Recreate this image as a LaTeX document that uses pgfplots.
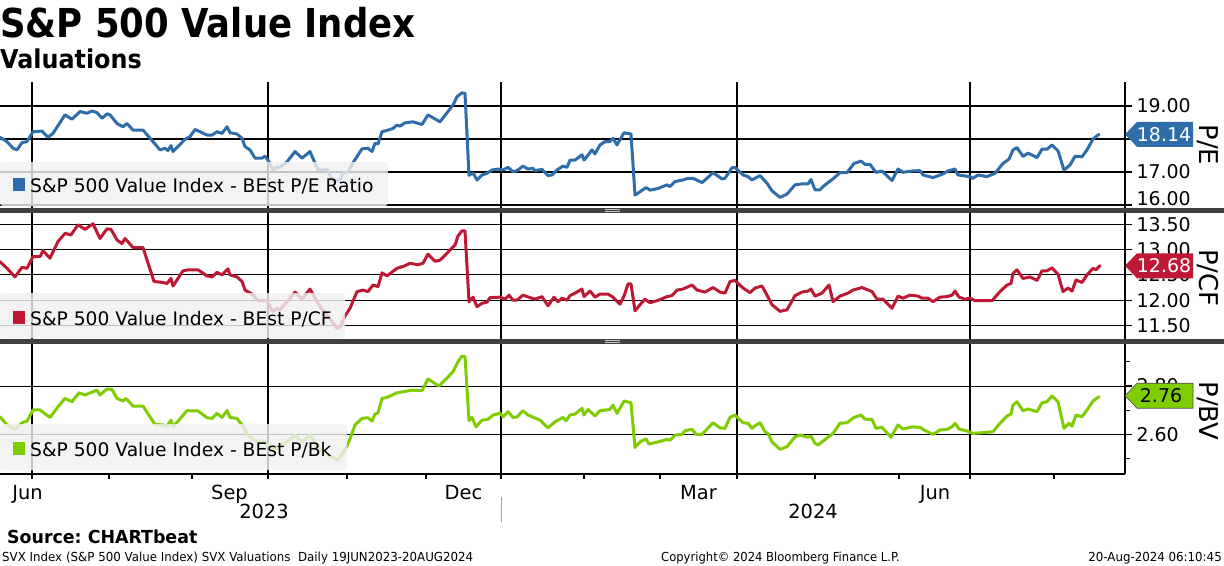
\documentclass[border=0pt]{standalone}
\usepackage{fontspec}
\setmainfont{DejaVu Sans}
\usepackage{pgfplots}
\pgfplotsset{compat=1.18}
\definecolor{pecol}{RGB}{46,109,170}
\definecolor{cfcol}{RGB}{190,25,52}
\definecolor{bvcol}{RGB}{127,204,0}
\definecolor{legbg}{RGB}{240,240,240}
\definecolor{sepcol}{RGB}{64,64,64}

\pgfplotstableread{
x y
0 18.05
7 17.92
13 17.72
17 17.67
22 17.89
27 17.92
33 18.22
42 18.24
48 18.05
53 18.17
65 18.73
72 18.60
80 18.83
87 18.78
92 18.85
97 18.80
102 18.63
107 18.76
110 18.73
117 18.47
123 18.37
127 18.47
133 18.27
143 18.27
153 17.92
160 17.67
165 17.72
168 17.65
171 17.80
173 17.62
185 17.99
190 18.07
195 18.29
200 18.22
207 18.12
212 18.12
217 18.22
222 18.17
227 18.37
230 18.19
237 18.15
242 18.02
245 17.77
250 17.67
255 17.42
262 17.42
265 17.48
268 17.36
273 17.06
277 17.14
280 17.14
287 17.31
295 17.62
302 17.42
310 17.62
318 17.06
327 17.08
333 16.71
340 16.76
343 16.96
348 17.01
353 17.28
362 17.70
368 17.72
372 17.62
375 17.87
378 17.85
382 18.22
388 18.27
393 18.32
397 18.42
400 18.39
405 18.49
413 18.52
422 18.44
428 18.73
440 18.52
453 19.03
457 19.28
462 19.40
465 19.38
469 16.90
473 16.97
477 16.76
482 16.91
487 16.96
492 17.06
498 17.09
503 17.06
508 17.14
513 17.01
517 17.04
523 17.18
528 17.09
533 17.11
535 17.04
542 17.08
548 16.89
552 16.91
557 17.06
563 17.18
567 17.14
570 17.36
575 17.36
582 17.52
584 17.36
592 17.67
595 17.55
600 17.82
605 17.92
610 17.92
613 18.02
617 17.82
624 18.19
631 18.15
635 16.30
640 16.40
646 16.53
650 16.45
658 16.50
667 16.61
670 16.56
675 16.71
683 16.76
688 16.81
693 16.81
702 16.68
707 16.81
713 16.98
722 16.79
725 16.81
732 17.13
735 17.14
743 16.91
748 16.86
752 16.76
760 16.89
767 16.66
772 16.43
780 16.23
787 16.33
795 16.61
802 16.64
808 16.64
811 16.77
815 16.46
820 16.46
825 16.61
833 16.79
840 16.98
847 16.98
854 17.26
861 17.33
865 17.23
870 17.23
876 16.99
882 17.03
892 16.74
898 17.09
903 16.99
912 17.03
920 17.04
923 16.91
933 16.83
942 16.93
948 17.03
955 17.09
958 16.91
970 16.86
973 16.81
978 16.91
987 16.86
995 16.96
1003 17.26
1009 17.39
1013 17.67
1017 17.74
1023 17.47
1028 17.57
1037 17.44
1042 17.69
1047 17.69
1052 17.82
1058 17.64
1064 17.06
1070 17.21
1075 17.48
1082 17.46
1087 17.67
1093 18.00
1099 18.14
}\tablePE

\pgfplotstableread{
x y
0 12.76
7 12.63
15 12.46
22 12.65
27 12.63
33 12.86
40 12.86
43 12.98
50 12.83
58 13.16
65 13.32
71 13.29
78 13.49
85 13.40
93 13.51
100 13.22
107 13.41
111 13.40
117 13.19
122 13.12
125 13.22
133 13.04
143 13.04
154 12.37
163 12.35
167 12.33
171 12.43
173 12.28
183 12.58
188 12.60
198 12.60
207 12.48
212 12.46
217 12.55
222 12.50
228 12.62
230 12.50
237 12.46
242 12.37
245 12.20
252 12.12
258 11.99
267 11.99
273 11.77
277 11.84
280 11.81
287 11.97
295 12.16
302 12.02
310 12.22
320 11.87
328 11.69
337 11.44
340 11.46
345 11.69
350 11.84
357 12.17
363 12.20
368 12.17
373 12.30
378 12.27
382 12.54
387 12.48
397 12.63
405 12.68
410 12.73
418 12.70
423 12.73
428 12.91
435 12.77
440 12.79
450 12.99
455 13.09
458 13.27
462 13.37
465 13.37
469 11.97
473 12.06
477 11.87
482 11.94
487 11.96
490 12.05
500 12.06
505 12.02
509 12.10
513 12.00
517 12.00
523 12.10
530 12.05
535 12.02
542 12.07
548 11.89
554 12.06
558 11.97
562 12.04
567 12.00
570 12.09
575 12.14
582 12.22
584 12.07
590 12.18
595 12.06
600 12.12
608 12.12
613 12.06
620 11.92
624 12.08
628 12.32
631 12.32
635 11.79
640 11.91
645 12.02
650 11.95
657 11.99
667 12.07
672 12.09
677 12.20
683 12.22
692 12.30
697 12.20
705 12.16
713 12.25
720 12.16
725 12.14
730 12.37
735 12.39
743 12.24
750 12.15
755 12.24
762 12.28
767 12.10
772 11.91
780 11.78
787 11.81
795 12.09
802 12.16
808 12.18
811 12.22
815 12.08
822 12.14
829 12.30
833 11.97
840 12.08
848 12.14
853 12.20
862 12.25
872 12.17
877 12.02
883 12.02
892 11.84
898 12.08
903 12.04
910 12.10
918 12.08
922 12.04
928 12.04
933 11.97
940 12.06
947 12.07
952 12.10
955 12.18
959 12.06
965 12.02
970 12.04
975 11.99
992 11.99
1000 12.17
1007 12.30
1011 12.33
1013 12.53
1017 12.60
1023 12.43
1030 12.46
1037 12.39
1042 12.58
1047 12.58
1052 12.64
1058 12.51
1063 12.17
1068 12.24
1072 12.18
1076 12.40
1082 12.35
1087 12.50
1093 12.63
1096 12.60
1100 12.68
}\tableCF

\pgfplotstableread{
x y
0 2.673
7 2.639
15 2.621
22 2.648
27 2.655
33 2.701
40 2.701
50 2.670
58 2.714
65 2.749
72 2.735
79 2.772
85 2.763
97 2.783
100 2.763
107 2.788
112 2.786
117 2.749
123 2.738
126 2.749
133 2.717
143 2.717
155 2.641
163 2.639
167 2.634
171 2.659
173 2.631
187 2.698
198 2.697
207 2.669
212 2.666
217 2.687
222 2.670
227 2.698
230 2.670
237 2.666
242 2.639
248 2.597
255 2.574
265 2.569
273 2.535
280 2.549
287 2.569
295 2.597
302 2.569
310 2.597
320 2.535
328 2.514
338 2.494
345 2.535
350 2.581
355 2.639
362 2.666
368 2.669
372 2.655
375 2.684
378 2.689
382 2.749
387 2.753
397 2.772
405 2.778
412 2.783
422 2.781
428 2.829
439 2.800
453 2.859
458 2.901
462 2.924
465 2.921
469 2.657
472 2.670
476 2.631
482 2.659
488 2.662
493 2.680
500 2.687
503 2.673
508 2.694
513 2.670
517 2.672
523 2.698
528 2.680
540 2.659
548 2.627
555 2.652
563 2.670
566 2.656
570 2.680
575 2.684
582 2.708
584 2.680
588 2.703
595 2.676
600 2.698
610 2.703
613 2.721
617 2.687
624 2.738
631 2.731
635 2.546
640 2.569
646 2.581
649 2.560
658 2.569
667 2.579
670 2.576
675 2.597
682 2.600
685 2.615
692 2.621
696 2.600
702 2.600
713 2.648
720 2.627
725 2.625
730 2.670
735 2.680
743 2.648
748 2.646
752 2.625
755 2.636
760 2.648
765 2.611
768 2.604
772 2.569
780 2.538
787 2.549
795 2.590
800 2.597
808 2.588
811 2.593
815 2.563
818 2.556
825 2.579
833 2.604
840 2.646
847 2.648
854 2.670
861 2.680
865 2.663
872 2.662
876 2.625
882 2.629
891 2.588
898 2.639
903 2.622
912 2.631
920 2.629
924 2.618
933 2.600
940 2.618
947 2.621
952 2.631
955 2.646
959 2.622
967 2.614
973 2.604
993 2.611
1000 2.646
1007 2.676
1011 2.684
1013 2.721
1017 2.735
1023 2.698
1028 2.705
1037 2.694
1042 2.731
1047 2.735
1052 2.759
1058 2.735
1064 2.625
1069 2.646
1072 2.634
1076 2.680
1082 2.673
1087 2.701
1093 2.738
1099 2.756
}\tableBV

\pgfplotsset{
  panel/.style={
    scale only axis, width=1125bp, xmin=0, xmax=1125,
    axis y line*=right, axis x line*=bottom,
    x axis line style={draw=none},
    y axis line style={black, line width=1.3bp},
    xtick={32,268,501,737,970}, xticklabels={},
    xmajorgrids, ymajorgrids,
    major grid style={black, line width=1.1bp},
    tick align=outside, major tick length=7bp, minor tick length=5bp,
    ytick style={black, line width=1.2bp},
    xtick style={draw=none},
    yticklabel style={font=\fontsize{19}{19}\selectfont, xshift=1bp,
      /pgf/number format/fixed, /pgf/number format/fixed zerofill,
      /pgf/number format/precision=2, /pgf/number format/assume math mode=true},
    clip=false,
  },
  serie/.style={line width=3bp, line join=round, line cap=round},
}

\begin{document}
\begin{tikzpicture}
\path[use as bounding box] (0bp,0bp) rectangle (1224bp,-566bp);

% ---------- panel 1 : P/E
\begin{axis}[panel, at={(0bp,-208bp)}, anchor=south west, height=126bp,
  ymin=15.909, ymax=19.727, ytick={17,18,19},
  extra y ticks={16}, extra y tick style={yticklabel style={/tikz/yshift=6bp}}]
  \addplot[serie, pecol] table[x=x,y=y]{\tablePE};
  \coordinate (peend) at (axis cs:1125,18.14);
\end{axis}

% ---------- panel 2 : P/CF
\begin{axis}[panel, at={(0bp,-339bp)}, anchor=south west, height=126bp,
  ymin=11.233, ymax=13.723, ytick={11.5,12,12.5,13,13.5}]
  \addplot[serie, cfcol] table[x=x,y=y]{\tableCF};
  \coordinate (cfend) at (axis cs:1125,12.68);
\end{axis}

% ---------- panel 3 : P/BV
\begin{axis}[panel, at={(0bp,-474bp)}, anchor=south west, height=130bp,
  ymin=2.436, ymax=2.974, ytick={2.6,2.8}, minor ytick={2.5,2.7,2.9},
  x axis line style={draw=black, line width=1.3bp},
  xtick style={draw=black, line width=1.1bp, /pgfplots/major tick length=5bp},
  minor xtick={109,192,347,426,584,660,815,899,1054},
  extra x ticks={27.5,229.5,463.5,698.5,935},
  extra x tick labels={Jun,Sep,Dec,Mar,Jun},
  extra x tick style={grid=none, xtick style={draw=none},
     xticklabel style={font=\fontsize{19.5}{19.5}\selectfont, /tikz/yshift=-1bp}},
  ]
  \addplot[serie, bvcol] table[x=x,y=y]{\tableBV};
  \coordinate (bvend) at (axis cs:1125,2.76);
\end{axis}

% ---------- separators
\fill[sepcol] (0bp,-208bp) rectangle (1224bp,-212.5bp);
\fill[sepcol] (0bp,-339bp) rectangle (1224bp,-343.5bp);
\foreach \yy in {209.6,211.2,340.6,342.2}
  \draw[gray!45, line width=0.6bp] (605bp,-\yy bp) -- (620bp,-\yy bp);

% ---------- legends
\fill[legbg, fill opacity=0.82, rounded corners=3bp] (0bp,-162bp) rectangle (388bp,-206bp);
\fill[pecol] (13bp,-178bp) rectangle (25bp,-191bp);
\node[anchor=base west, inner sep=0pt, font=\fontsize{18.75}{20}\selectfont] at (30bp,-192.5bp) {S\&P 500 Value Index - BEst P/E Ratio};

\fill[legbg, fill opacity=0.82, rounded corners=3bp] (0bp,-293bp) rectangle (345bp,-338bp);
\fill[cfcol] (13bp,-311bp) rectangle (25bp,-324bp);
\node[anchor=base west, inner sep=0pt, font=\fontsize{18.75}{20}\selectfont] at (30bp,-325.5bp) {S\&P 500 Value Index - BEst P/CF};

\fill[legbg, fill opacity=0.82, rounded corners=3bp] (0bp,-424bp) rectangle (347bp,-470bp);
\fill[bvcol] (13bp,-442bp) rectangle (25bp,-455bp);
\node[anchor=base west, inner sep=0pt, font=\fontsize{18.75}{20}\selectfont] at (30bp,-456.5bp) {S\&P 500 Value Index - BEst P/Bk};

% ---------- callouts
\fill[pecol] (peend) -- ++(12bp,12.5bp) -- ++(56bp,0bp) -- ++(0bp,-25bp) -- ++(-56bp,0bp) -- cycle;
\node[text=white, font=\fontsize{19}{19}\selectfont, inner sep=0pt] at ([xshift=39bp]peend) {18.14};
\fill[cfcol] (cfend) -- ++(12bp,12.5bp) -- ++(56bp,0bp) -- ++(0bp,-25bp) -- ++(-56bp,0bp) -- cycle;
\node[text=white, font=\fontsize{19}{19}\selectfont, inner sep=0pt] at ([xshift=39bp]cfend) {12.68};
\filldraw[fill=bvcol, draw=black!70, line width=0.6bp] (bvend) -- ++(12bp,12.5bp) -- ++(56bp,0bp) -- ++(0bp,-25bp) -- ++(-56bp,0bp) -- cycle;
\node[text=black, font=\fontsize{19}{19}\selectfont, inner sep=0pt] at ([xshift=36bp]bvend) {2.76};

% ---------- right axis titles
\node[rotate=-90, font=\fontsize{26}{26}\selectfont, inner sep=0pt] at (1208bp,-145bp) {P/E};
\node[rotate=-90, font=\fontsize{26}{26}\selectfont, inner sep=0pt] at (1208bp,-278bp) {P/CF};
\node[rotate=-90, font=\fontsize{26}{26}\selectfont, inner sep=0pt] at (1208bp,-411bp) {P/BV};

% ---------- years
\node[font=\fontsize{19.5}{19.5}\selectfont, inner sep=0pt] at (264bp,-511bp) {2023};
\node[font=\fontsize{19.5}{19.5}\selectfont, inner sep=0pt] at (813bp,-511bp) {2024};
\draw[gray!70, line width=1bp] (501bp,-497bp) -- (501bp,-522bp);

% ---------- titles
\node[anchor=base west, inner sep=0pt, font=\bfseries\fontsize{40}{40}\selectfont] at (0bp,-37bp) {\scalebox{0.89}[1]{S\&P 500 Value Index}};
\node[anchor=base west, inner sep=0pt, font=\bfseries\fontsize{26}{26}\selectfont] at (0bp,-68bp) {\scalebox{0.92}[1]{Valuations}};

% ---------- footer
\node[anchor=base west, inner sep=0pt, font=\bfseries\fontsize{18}{18}\selectfont] at (7bp,-543bp) {\scalebox{0.97}[1]{Source:\ CHARTbeat}};
\node[anchor=base west, inner sep=0pt, font=\fontsize{12.5}{12.5}\selectfont] at (2bp,-561bp) {\scalebox{0.95}[1]{SVX Index (S\&P 500 Value Index) SVX Valuations\ \ Daily 19JUN2023-20AUG2024}};
\node[anchor=base west, inner sep=0pt, font=\fontsize{12.5}{12.5}\selectfont] at (661bp,-561bp) {\scalebox{0.93}[1]{Copyright© 2024 Bloomberg Finance L.P.}};
\node[anchor=base east, inner sep=0pt, font=\fontsize{12.5}{12.5}\selectfont] at (1222bp,-561bp) {\scalebox{0.95}[1]{20-Aug-2024 06:10:45}};
\end{tikzpicture}
\end{document}
